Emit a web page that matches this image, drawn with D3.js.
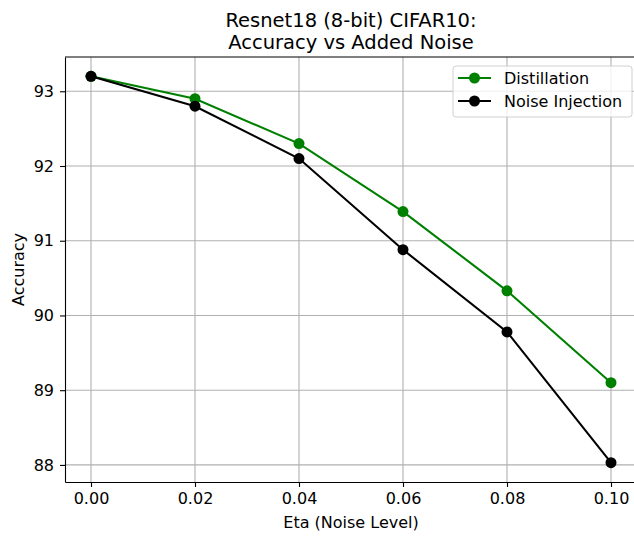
<!DOCTYPE html>
<html>
<head>
<meta charset="utf-8">
<script src="https://cdn.jsdelivr.net/npm/d3@7"></script>
<style>
  body { margin: 0; background: #fff; }
  svg { font-family: "DejaVu Sans", sans-serif; }
</style>
</head>
<body>
<div id="chart"></div>
<script>
// data
var etas = [0.00, 0.02, 0.04, 0.06, 0.08, 0.10];
var distillation = [93.2, 92.9, 92.3, 91.39, 90.33, 89.1];
var noiseInjection = [93.2, 92.8, 92.1, 90.88, 89.78, 88.03];
var xTicks = [0.00, 0.02, 0.04, 0.06, 0.08, 0.10];
var yTicks = [88, 89, 90, 91, 92, 93];
var seriesNames = ["Distillation", "Noise Injection"];
var seriesColors = ["#008000", "#000000"];

var width = 634, height = 538;
var margin = {left: 65, top: 57, right: -3, bottom: 56};

var svg = d3.select("#chart").append("svg")
    .attr("width", width)
    .attr("height", height);

// matplotlib style 5% padding
var x = d3.scaleLinear()
    .domain([-0.005, 0.105])
    .range([margin.left, width - margin.right]);

var yMin = d3.min(noiseInjection), yMax = d3.max(distillation);
var pad = (yMax - yMin) * 0.05;
var y = d3.scaleLinear()
    .domain([yMin - pad, yMax + pad])
    .range([height - margin.bottom, margin.top]);

// grid
svg.append("g").selectAll("line").data(xTicks).join("line")
    .attr("x1", d => x(d)).attr("x2", d => x(d))
    .attr("y1", margin.top).attr("y2", height - margin.bottom)
    .attr("stroke", "#b0b0b0").attr("stroke-width", 1.1);
svg.append("g").selectAll("line").data(yTicks).join("line")
    .attr("x1", margin.left).attr("x2", width - margin.right)
    .attr("y1", d => y(d)).attr("y2", d => y(d))
    .attr("stroke", "#b0b0b0").attr("stroke-width", 1.1);

// axes
var xAxis = svg.append("g")
    .attr("transform", `translate(0,${height - margin.bottom})`)
    .call(d3.axisBottom(x).tickValues(xTicks).tickFormat(d3.format(".2f"))
        .tickSize(5).tickSizeOuter(0).tickPadding(6));
var yAxis = svg.append("g")
    .attr("transform", `translate(${margin.left},0)`)
    .call(d3.axisLeft(y).tickValues(yTicks).tickFormat(d3.format("d"))
        .tickSize(5).tickSizeOuter(0).tickPadding(6));

[xAxis, yAxis].forEach(g => {
    g.select(".domain").attr("stroke", "#000").attr("stroke-width", 1.1);
    g.selectAll(".tick line").attr("stroke", "#000").attr("stroke-width", 1.1);
    g.selectAll(".tick text").attr("fill", "#000").attr("font-size", 16)
        .attr("font-family", "DejaVu Sans");
});

// top spine
svg.append("line")
    .attr("x1", margin.left).attr("x2", width - margin.right)
    .attr("y1", margin.top).attr("y2", margin.top)
    .attr("stroke", "#000").attr("stroke-width", 1.1);

// lines
var line = d3.line().x((d, i) => x(etas[i])).y(d => y(d));
[distillation, noiseInjection].forEach((vals, k) => {
    svg.append("path")
        .datum(vals)
        .attr("d", line)
        .attr("fill", "none")
        .attr("stroke", seriesColors[k])
        .attr("stroke-width", 2.1);
    svg.append("g").selectAll("circle").data(vals).join("circle")
        .attr("cx", (d, i) => x(etas[i]))
        .attr("cy", d => y(d))
        .attr("r", 5.5)
        .attr("fill", seriesColors[k]);
});

// title
var cx = (margin.left + width - margin.right) / 2;
svg.append("text")
    .attr("x", cx).attr("y", 27)
    .attr("text-anchor", "middle")
    .attr("font-size", 19.5)
    .text("Resnet18 (8-bit) CIFAR10:");
svg.append("text")
    .attr("x", cx).attr("y", 49)
    .attr("text-anchor", "middle")
    .attr("font-size", 19.5)
    .text("Accuracy vs Added Noise");

// axis labels
svg.append("text")
    .attr("x", cx).attr("y", 528)
    .attr("text-anchor", "middle")
    .attr("font-size", 16)
    .text("Eta (Noise Level)");
svg.append("text")
    .attr("transform", `translate(24,${(margin.top + height - margin.bottom) / 2}) rotate(-90)`)
    .attr("text-anchor", "middle")
    .attr("font-size", 16)
    .text("Accuracy");

// legend
var legend = svg.append("g").attr("transform", "translate(453,66)");
legend.append("rect")
    .attr("width", 179).attr("height", 51)
    .attr("rx", 3)
    .attr("fill", "#fff").attr("fill-opacity", 0.8)
    .attr("stroke", "#d0d0d0").attr("stroke-width", 1);
seriesNames.forEach((name, k) => {
    var row = legend.append("g").attr("transform", `translate(0,${12 + k * 23})`);
    row.append("line")
        .attr("x1", 5).attr("x2", 38)
        .attr("stroke", seriesColors[k]).attr("stroke-width", 2.1);
    row.append("circle").attr("cx", 21.5).attr("r", 5.5).attr("fill", seriesColors[k]);
    row.append("text")
        .attr("x", 51).attr("y", 6)
        .attr("font-size", 16)
        .text(name);
});
</script>
</body>
</html>
